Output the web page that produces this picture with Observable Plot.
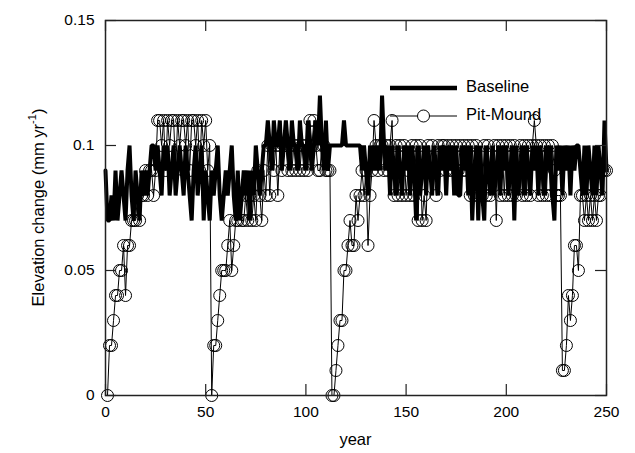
<!DOCTYPE html>
<html><head><meta charset="utf-8">
<script src="https://cdn.jsdelivr.net/npm/d3@7"></script>
<script src="https://cdn.jsdelivr.net/npm/@observablehq/plot@0.6"></script>
<style>body{margin:0;background:#fff} svg{font-family:"Liberation Sans",Arial,sans-serif}</style>
</head><body><div id="chart"></div>
<script>
const xTicks = [0, 50, 100, 150, 200, 250];
const yTicks = [0, 0.05, 0.1, 0.15];
const yTickLabels = ["0", "0.05", "0.1", "0.15"];
const seriesNames = ["Baseline", "Pit-Mound"];

const baselineYears = d3.range(0, 251);
const baselineValues = [
 .09,.07,.07,.08,.07,.09,.07,.08,.09,.08,
 .07,.09,.10,.08,.07,.09,.08,.07,.09,.08,
 .09,.08,.09,.10,.10,.09,.10,.09,.08,.10,
 .09,.10,.08,.09,.10,.08,.09,.10,.09,.08,
 .10,.09,.08,.07,.09,.10,.08,.09,.10,.07,
 .09,.08,.07,.09,.08,.09,.10,.08,.07,.08,
 .09,.08,.09,.10,.08,.07,.09,.07,.08,.09,
 .08,.09,.07,.09,.08,.10,.09,.08,.09,.10,
 .10,.11,.10,.09,.11,.10,.10,.11,.09,.10,
 .11,.10,.09,.11,.10,.10,.09,.11,.10,.10,
 .09,.11,.10,.09,.10,.11,.10,.12,.10,.09,
 .11,.09,.10,.10,.10,.10,.10,.10,.10,.11,
 .10,.10,.10,.10,.10,.10,.10,.10,.09,.10,
 .09,.08,.10,.09,.10,.09,.10,.09,.12,.10,
 .09,.10,.08,.10,.09,.08,.10,.09,.08,.10,
 .09,.10,.08,.10,.09,.07,.10,.08,.09,.10,
 .08,.10,.09,.08,.10,.09,.08,.10,.09,.10,
 .08,.10,.09,.10,.08,.10,.08,.08,.10,.09,
 .10,.08,.10,.07,.09,.10,.07,.10,.08,.07,
 .10,.09,.08,.10,.08,.09,.10,.08,.10,.09,
 .10,.08,.09,.10,.07,.10,.08,.09,.10,.08,
 .10,.09,.08,.10,.09,.10,.08,.10,.09,.08,
 .10,.09,.10,.08,.07,.10,.09,.10,.08,.10,
 .09,.10,.08,.10,.09,.10,.10,.09,.08,.10,
 .08,.10,.09,.08,.10,.08,.10,.09,.08,.11,
 .09
];

const pitMoundYears = d3.range(1, 251);
const pitMoundValues = [
 0,.02,.02,.03,.04,.04,.05,.05,.06,.04,
 .06,.06,.07,.07,.07,.08,.07,.08,.08,.09,
 .08,.09,.09,.08,.09,.11,.11,.10,.11,.09,
 .11,.10,.11,.11,.09,.11,.10,.11,.11,.10,
 .11,.09,.11,.11,.10,.11,.09,.11,.10,.11,
 .09,.10,0,.02,.02,.03,.04,.05,.05,.05,
 .06,.07,.05,.06,.07,.07,.08,.07,.07,.08,
 .07,.08,.07,.08,.07,.09,.08,.07,.09,.08,
 .10,.08,.10,.09,.10,.08,.10,.09,.10,.10,
 .09,.10,.09,.10,.09,.10,.09,.10,.09,.10,
 .09,.11,.10,.11,.10,.09,.09,.10,.10,.09,
 .09,.09,0,0,.01,.02,.03,.03,.05,.05,
 .06,.07,.06,.06,.08,.07,.08,.09,.08,.09,
 .06,.08,.09,.11,.10,.09,.10,.10,.09,.10,
 .09,.10,.11,.08,.10,.08,.10,.08,.10,.08,
 .09,.08,.10,.08,.10,.07,.10,.07,.08,.07,
 .10,.09,.10,.09,.08,.10,.09,.10,.10,.09,
 .10,.09,.10,.09,.10,.09,.10,.09,.10,.09,
 .10,.08,.10,.08,.10,.08,.09,.08,.10,.08,
 .10,.08,.09,.10,.07,.10,.08,.10,.08,.10,
 .08,.10,.08,.10,.08,.09,.10,.08,.10,.08,
 .10,.08,.10,.11,.10,.08,.10,.08,.10,.08,
 .10,.08,.10,.09,.08,.08,.08,.01,.01,.02,
 .04,.03,.04,.06,.06,.05,.08,.08,.07,.08,
 .07,.08,.07,.08,.07,.08,.08,.09,.09,.09
];

const base = baselineYears.map((x, i) => ({x, y: baselineValues[i]}));
const pit = pitMoundYears.map((x, i) => ({x, y: pitMoundValues[i]}));

const W = 635, H = 453, mL = 105, mR = 29, mT = 20, mB = 58;
const tickPx = 11;
const xPerPx = 250 / (W - mL - mR);
const yPerPx = 0.15 / (H - mT - mB);

const plot = Plot.plot({
  width: W, height: H,
  marginLeft: mL, marginRight: mR, marginTop: mT, marginBottom: mB,
  style: {fontFamily: "Liberation Sans, Arial, sans-serif", fontSize: "15.5px", color: "black", background: "white", overflow: "visible"},
  x: {domain: [0, 250]},
  y: {domain: [0, 0.15]},
  marks: [
    Plot.line(base, {x: "x", y: "y", stroke: "black", strokeWidth: 4, strokeLinejoin: "miter"}),
    Plot.line(pit, {x: "x", y: "y", stroke: "black", strokeWidth: 1}),
    Plot.dot(pit, {x: "x", y: "y", r: 6, stroke: "black", strokeWidth: 1, fill: "none"}),
    Plot.ruleX(xTicks, {x: d => d, y1: 0, y2: tickPx * yPerPx, stroke: "#222", strokeWidth: 1.2}),
    Plot.ruleX(xTicks, {x: d => d, y1: 0.15, y2: 0.15 - tickPx * yPerPx, stroke: "#222", strokeWidth: 1.2}),
    Plot.ruleY(yTicks, {y: d => d, x1: 0, x2: tickPx * xPerPx, stroke: "#222", strokeWidth: 1.2}),
    Plot.ruleY(yTicks, {y: d => d, x1: 250, x2: 250 - tickPx * xPerPx, stroke: "#222", strokeWidth: 1.2}),
    Plot.frame({stroke: "#222", strokeWidth: 1.5}),
    Plot.axisX(xTicks, {tickSize: 0, tickPadding: 10, label: null, fontSize: 15.5}),
    Plot.axisY(yTicks, {tickSize: 0, tickPadding: 11, label: null, fontSize: 15.5,
      tickFormat: d => yTickLabels[yTicks.indexOf(d)]})
  ]
});
document.getElementById("chart").appendChild(plot);

const svg = d3.select(plot);
const font = "Liberation Sans, Arial, sans-serif";
// axis titles
svg.append("text").attr("x", mL + (W - mL - mR) / 2).attr("y", 441)
  .attr("text-anchor", "middle").attr("dominant-baseline", "middle")
  .attr("font-size", 16.5).attr("font-family", font).attr("fill", "black").text("year");
const yl = svg.append("text")
  .attr("transform", `translate(40,${mT + (H - mT - mB) / 2}) rotate(-90)`)
  .attr("text-anchor", "middle").attr("dominant-baseline", "middle")
  .attr("font-size", 16.5).attr("font-family", font).attr("fill", "black");
yl.append("tspan").text("Elevation change (mm yr");
yl.append("tspan").attr("font-size", 11).attr("dy", -7).text("-1");
yl.append("tspan").attr("dy", 7).text(")");

// legend
const lg = svg.append("g").attr("text-anchor", "start");
const lx1 = 390, lx2 = 457, ly1 = 88, ly2 = 116;
lg.append("line").attr("x1", lx1).attr("x2", lx2).attr("y1", ly1).attr("y2", ly1)
  .attr("stroke", "black").attr("stroke-width", 4.5);
lg.append("text").attr("x", 466).attr("y", ly1).attr("dominant-baseline", "middle")
  .attr("text-anchor", "start")
  .attr("font-size", 16.5).attr("font-family", font).text(seriesNames[0]);
lg.append("line").attr("x1", lx1).attr("x2", lx2).attr("y1", ly2).attr("y2", ly2)
  .attr("stroke", "black").attr("stroke-width", 1);
lg.append("circle").attr("cx", (lx1 + lx2) / 2).attr("cy", ly2).attr("r", 6)
  .attr("fill", "white").attr("stroke", "black");
lg.append("text").attr("x", 466).attr("y", ly2).attr("dominant-baseline", "middle")
  .attr("text-anchor", "start")
  .attr("font-size", 16.5).attr("font-family", font).text(seriesNames[1]);
</script></body></html>
